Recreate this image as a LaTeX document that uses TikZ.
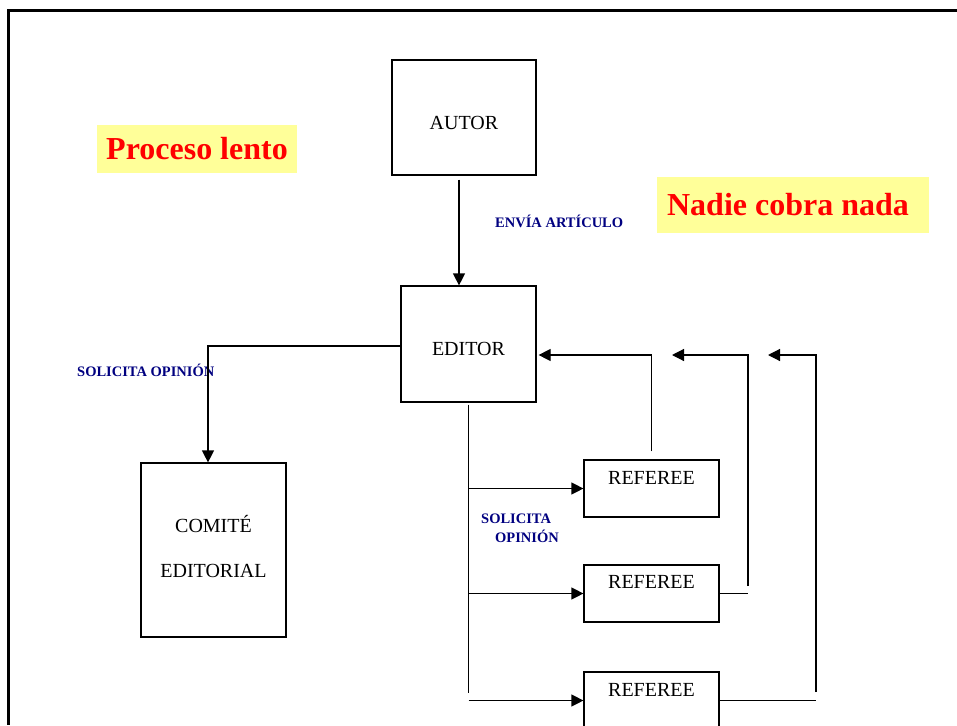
\documentclass[tikz,border=0pt]{standalone}
\usepackage{fontspec}
\setmainfont{Liberation Serif}
\usetikzlibrary{arrows.meta}
\definecolor{amarillo}{RGB}{255,255,153}
\definecolor{azul}{RGB}{0,0,128}
\tikzset{
    caja/.style={draw, line width=1.2pt, inner sep=0pt},
    texto/.style={inner sep=0pt, font=\fontsize{20}{45}\selectfont},
    rotulo/.style={text=azul, inner sep=0pt, anchor=west, align=left, font=\fontsize{14.5}{19}\selectfont\bfseries},
    aviso/.style={fill=amarillo, text=red, inner sep=0pt, font=\fontsize{32}{36}\selectfont\bfseries},
    flecha/.style={-{Triangle[length=12pt,width=12pt]}, line width=1.2pt},
    linea/.style={line width=1.2pt}
}
\begin{document}
\begin{tikzpicture}[x=1pt,y=-1pt]

    \useasboundingbox (0,0) rectangle (957,725);
    \draw[line width=3pt] (957,11) -- (8.7,11) -- (8.7,725);

    \node[caja, minimum width=144pt, minimum height=115pt] (autor) at (464,117.5) {};
    \node[texto] (autortxt) at (464,123) {AUTOR};
    \node[caja, minimum width=135pt, minimum height=116pt] (editor) at (468.5,344) {};
    \node[texto] (editortxt) at (468.5,349) {EDITOR};
    \node[caja, minimum width=145pt, minimum height=174pt] (comite) at (213.5,550) {};
    \node[texto, align=center] (comitetxt) at (213.5,546.5) {COMITÉ\\EDITORIAL};
    \node[caja, minimum width=135pt, minimum height=57pt] (ref1) at (651.5,488.5) {};
    \node[texto] (ref1txt) at (651.5,478) {REFEREE};
    \node[caja, minimum width=135pt, minimum height=57pt] (ref2) at (651.5,593.5) {};
    \node[texto] (ref2txt) at (651.5,582) {REFEREE};
    \node[caja, minimum width=135pt, minimum height=57pt] (ref3) at (651.5,700.5) {};
    \node[texto] (ref3txt) at (651.5,690) {REFEREE};

    \node[aviso, minimum width=200pt, minimum height=48pt] (lento) at (197,149) {Proceso lento};
    \node[aviso, minimum width=272pt, minimum height=56pt] (nadie) at (793,205) {Nadie cobra nada\kern10pt};

    \node[rotulo] (envia) at (495,221) {ENVÍA ARTÍCULO};
    \node[rotulo] (solcomite) at (77,370) {SOLICITA OPINIÓN};
    \node[rotulo] (solref) at (481,528.5) {SOLICITA\\\hspace{14pt}OPINIÓN};

    \coordinate (tronco) at (468.5,693);
    \coordinate (sube2) at (748,586);
    \coordinate (giro2) at (748,355);
    \coordinate (punta2) at (672,355);
    \coordinate (sube3) at (816,692);
    \coordinate (giro3) at (816,355);
    \coordinate (punta3) at (768,355);

    \draw[flecha, shorten <=4pt] ([xshift=-5pt]autor.south) -- ([xshift=-9.5pt]editor.north);
    \draw[flecha] ([yshift=-2pt]editor.west) -| ([xshift=-5.5pt]comite.north);
    \draw[linea, shorten <=2pt] (editor.south) -- (tronco);
    \draw[flecha] (ref1.west -| editor.south) -- (ref1.west);
    \draw[flecha] (ref2.west -| editor.south) -- (ref2.west);
    \draw[flecha] (ref3.west -| editor.south) -- (ref3.west);
    \draw[flecha, shorten <=8pt, shorten >=2pt] (ref1.north) |- ([yshift=-11pt]editor.east);
    \draw[linea] (ref2.east) -- (ref2.east -| giro2);
    \draw[flecha] (sube2) -- (giro2) -- (punta2);
    \draw[linea] (ref3.east) -- (ref3.east -| giro3);
    \draw[flecha] (sube3) -- (giro3) -- (punta3);
        \end{tikzpicture}
\end{document}
